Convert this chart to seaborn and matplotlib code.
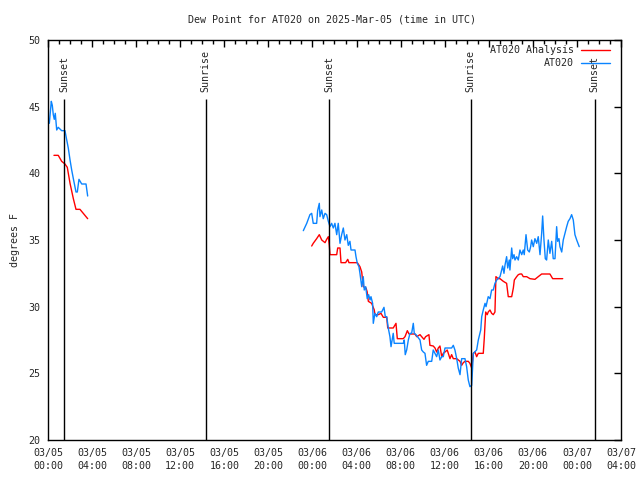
import pandas as pd
import seaborn as sns
import matplotlib.pyplot as plt
import matplotlib.dates as mdates

# hours after 2025-03-05 00:00 UTC
obs_hours_1 = [0.12, 0.30, 0.39, 0.48, 0.57, 0.66, 0.79, 0.93, 1.24, 1.54, 1.70, 1.84,
               2.00, 2.15, 2.30, 2.54, 2.66, 2.81, 3.06, 3.45, 3.60]
obs_vals_1 = [43.75, 45.4, 45.1, 44.4, 44.05, 44.5, 43.25, 43.45, 43.2, 43.2, 42.5, 41.9,
              41.0, 40.25, 39.6, 38.6, 38.6, 39.55, 39.2, 39.2, 38.3]

obs_hours_2 = [23.17, 23.48, 23.77, 23.93, 24.07, 24.38, 24.47, 24.62, 24.68, 24.84, 24.98,
               25.14, 25.29, 25.44, 25.59, 25.74, 25.89, 26.04, 26.20, 26.34, 26.50, 26.65,
               26.80, 26.95, 27.11, 27.25, 27.40, 27.50, 27.86, 27.95, 28.07, 28.22, 28.31,
               28.47, 28.61, 28.70, 28.83, 28.97, 29.10, 29.22, 29.31, 29.46, 29.52, 29.67,
               29.83, 29.97, 30.28, 30.49, 30.61, 30.74, 30.88, 31.03, 31.13, 31.33, 31.42,
               32.24, 32.33, 32.42, 32.55, 32.70, 32.85, 33.00, 33.15, 33.24, 33.39, 33.76,
               33.91, 34.06, 34.21, 34.36, 34.51, 34.82, 34.96, 35.12, 35.27, 35.42, 35.57,
               35.73, 35.87, 36.03, 36.63, 36.78, 36.93, 37.09, 37.23, 37.39, 37.54, 37.84,
               37.99, 38.14, 38.29, 38.45, 38.60, 38.90, 39.05, 39.27, 39.36, 39.50, 39.66,
               39.75, 39.86, 39.95, 40.11, 40.26, 40.41, 40.56, 40.72, 41.02, 41.17, 41.26,
               41.38, 41.47, 41.62, 41.72, 41.86, 41.92, 42.08, 42.17, 42.29, 42.38, 42.53,
               42.68, 42.83, 42.99, 43.13, 43.22, 43.38, 43.53, 43.68, 43.80, 43.89, 44.04,
               44.19, 44.35, 44.49, 44.65, 44.80, 44.89, 45.01, 45.13, 45.25, 45.40, 45.55,
               45.71, 45.85, 46.01, 46.16, 46.25, 46.37, 46.46, 46.62, 46.76, 46.91, 47.07,
               47.21, 47.37, 47.52, 47.67, 47.82, 47.98, 48.21]
obs_vals_2 = [35.7, 36.25, 36.9, 37.0, 36.25, 36.25, 37.2, 37.75, 36.75, 37.25, 36.6,
              37.0, 36.9, 36.4, 36.0, 36.25, 35.9, 36.25, 35.4, 36.25, 34.75, 35.4,
              35.9, 35.0, 35.4, 34.6, 34.9, 34.25, 34.25, 33.75, 33.25, 33.0, 32.5,
              31.5, 32.25, 31.25, 31.5, 30.6, 30.9, 30.5, 30.75, 30.25, 28.75, 29.5,
              29.25, 29.6, 29.6, 29.95, 29.25, 29.25, 28.4, 27.75, 27.0, 28.0, 27.25,
              27.25, 27.5, 26.4, 26.75, 27.5, 28.0, 28.0, 28.75, 28.0, 27.9, 27.5,
              26.75, 26.6, 26.5, 25.6, 25.9, 25.9, 26.75, 26.5, 26.25, 26.75, 26.0,
              26.25, 26.25, 26.9, 26.9, 27.1, 26.75, 26.1, 25.4, 24.9, 26.1, 26.1,
              25.5, 24.5, 24.0, 24.1, 26.5, 26.75, 27.5, 28.25, 29.25, 29.75, 30.25,
              30.0, 30.4, 30.75, 30.6, 31.25, 31.25, 31.75, 32.0, 32.25, 32.75, 33.05,
              32.5, 33.1, 33.75, 32.9, 33.5, 32.75, 34.4, 33.6, 33.9, 33.5, 33.75,
              33.5, 34.25, 33.9, 34.25, 33.9, 35.4, 34.25, 34.1, 34.5, 35.0, 34.5,
              35.1, 34.75, 35.25, 33.9, 35.5, 36.8, 35.0, 33.6, 33.5, 35.0, 34.0,
              34.9, 33.6, 33.6, 36.0, 34.9, 35.1, 34.5, 34.1, 35.0, 35.5, 36.0,
              36.4, 36.6, 36.9, 36.5, 35.4, 35.0, 34.5]

ana_hours_1 = [0.54, 0.93, 1.24, 1.54, 1.75, 2.00, 2.30, 2.54, 2.90, 3.20, 3.60]
ana_vals_1 = [41.35, 41.35, 40.9, 40.7, 40.45, 39.25, 38.1, 37.3, 37.3, 37.0, 36.6]

ana_hours_2 = [23.93, 24.07, 24.38, 24.62, 24.84, 25.14, 25.29, 25.44, 25.53, 25.59, 26.20,
               26.29, 26.50, 26.59, 27.01, 27.20, 27.31, 28.07, 28.31, 28.47, 28.61, 28.86,
               28.97, 29.07, 29.37, 29.61, 29.67, 29.97, 30.22, 30.43, 30.74, 30.83, 31.33,
               31.58, 31.70, 32.24, 32.40, 32.61, 32.76, 33.30, 33.46, 33.76, 33.91, 34.12,
               34.27, 34.57, 34.66, 34.96, 35.12, 35.27, 35.42, 35.57, 35.73, 35.87, 36.03,
               36.23, 36.48, 36.63, 36.78, 37.09, 37.39, 37.54, 37.69, 37.84, 38.14, 38.29,
               38.45, 38.60, 38.75, 38.90, 39.05, 39.50, 39.59, 39.72, 39.86, 39.95, 40.11,
               40.26, 40.41, 40.56, 40.65, 40.86, 41.02, 41.17, 41.32, 41.62, 41.77, 42.08,
               42.23, 42.32, 42.53, 42.68, 42.83, 42.99, 43.13, 43.44, 43.74, 44.19, 44.49,
               44.80, 45.55, 45.80, 46.71]
ana_vals_2 = [34.55, 34.75, 35.1, 35.4, 35.0, 34.8, 35.05, 35.25, 34.6, 33.9, 33.9,
              34.4, 34.4, 33.3, 33.3, 33.55, 33.3, 33.3, 33.0, 32.6, 31.5, 31.4,
              31.1, 30.4, 30.25, 29.75, 29.4, 29.4, 29.5, 29.2, 29.2, 28.4, 28.4,
              28.75, 27.6, 27.6, 27.75, 28.2, 27.95, 27.95, 27.75, 27.9, 27.75, 27.55,
              27.75, 27.9, 27.1, 27.05, 26.9, 26.6, 26.9, 27.05, 26.25, 26.5, 26.6,
              26.75, 26.1, 26.4, 26.1, 26.1, 25.9, 25.6, 25.8, 25.9, 25.9, 25.75,
              25.4, 26.5, 26.6, 26.25, 26.5, 26.5, 27.6, 29.6, 29.4, 29.6, 29.75,
              29.5, 29.4, 29.6, 32.25, 32.1, 32.1, 32.0, 31.9, 31.75, 30.75, 30.75,
              31.4, 32.0, 32.25, 32.4, 32.45, 32.45, 32.25, 32.25, 32.1, 32.05, 32.25,
              32.45, 32.45, 32.1, 32.1]

sun_labels = ["Sunset", "Sunrise", "Sunset", "Sunrise", "Sunset"]
sun_hours = [1.47, 14.3, 25.52, 38.35, 49.6]

base = pd.Timestamp("2025-03-05 00:00")

def frame(hours, vals, series, seg):
    return pd.DataFrame({"time": base + pd.to_timedelta(hours, unit="h"),
                         "value": vals, "series": series, "seg": seg})

df = pd.concat([
    frame(ana_hours_1, ana_vals_1, "AT020 Analysis", 0),
    frame(ana_hours_2, ana_vals_2, "AT020 Analysis", 1),
    frame(obs_hours_1, obs_vals_1, "AT020", 2),
    frame(obs_hours_2, obs_vals_2, "AT020", 3),
])

sns.set_style("white")
plt.rcParams["font.family"] = ["DejaVu Sans Mono"]
fs = 7.2
colors = {"AT020 Analysis": "#ff0000", "AT020": "#0a84ff"}

fig = plt.figure(figsize=(6.4, 4.8), dpi=100)
ax = fig.add_axes([48 / 640, 40 / 480, 573 / 640, 400 / 480])

sns.lineplot(data=df, x="time", y="value", hue="series", units="seg",
             estimator=None, sort=False, palette=colors, linewidth=1,
             legend=False, ax=ax)

sun_times = [base + pd.Timedelta(hours=h) for h in sun_hours]
ax.vlines(sun_times, 20, 45.55, color="black", linewidth=1)
for t, lab in zip(sun_times, sun_labels):
    ax.text(t, 46.1, lab, rotation=90, ha="center", va="bottom", fontsize=fs)

ax.set_xlim(base, base + pd.Timedelta(hours=52))
ax.set_ylim(20, 50)
ax.set_yticks(range(20, 51, 5))
ax.xaxis.set_major_locator(mdates.HourLocator(byhour=range(0, 24, 4)))
ax.xaxis.set_minor_locator(mdates.HourLocator())
ax.xaxis.set_major_formatter(mdates.DateFormatter("%m/%d\n%H:%M"))
ax.tick_params(which="both", direction="in", top=True, right=True,
               labelsize=fs, color="black", width=1)
ax.tick_params(which="major", length=5, pad=5.5)
ax.tick_params(which="minor", length=3)
for lab in ax.get_xticklabels():
    lab.set_linespacing(1.4)
for s in ax.spines.values():
    s.set_color("black")
    s.set_linewidth(1)

ax.set_xlabel("")
ax.set_ylabel("degrees F", fontsize=fs, labelpad=6)
fig.suptitle("Dew Point for AT020 on 2025-Mar-05 (time in UTC)", fontsize=fs,
             y=1 - 19 / 480, va="center", x=332 / 640)

# gnuplot style key: right-aligned text followed by a line sample
for i, name in enumerate(["AT020 Analysis", "AT020"]):
    yk = 1 - (10 + 13 * i) / 400
    ax.text(1 - 47 / 573, yk, name, transform=ax.transAxes, ha="right", va="center", fontsize=fs)
    ax.plot([1 - 40 / 573, 1 - 11 / 573], [yk, yk], transform=ax.transAxes,
            color=colors[name], linewidth=1)

fig.savefig("out.png", dpi=100)
